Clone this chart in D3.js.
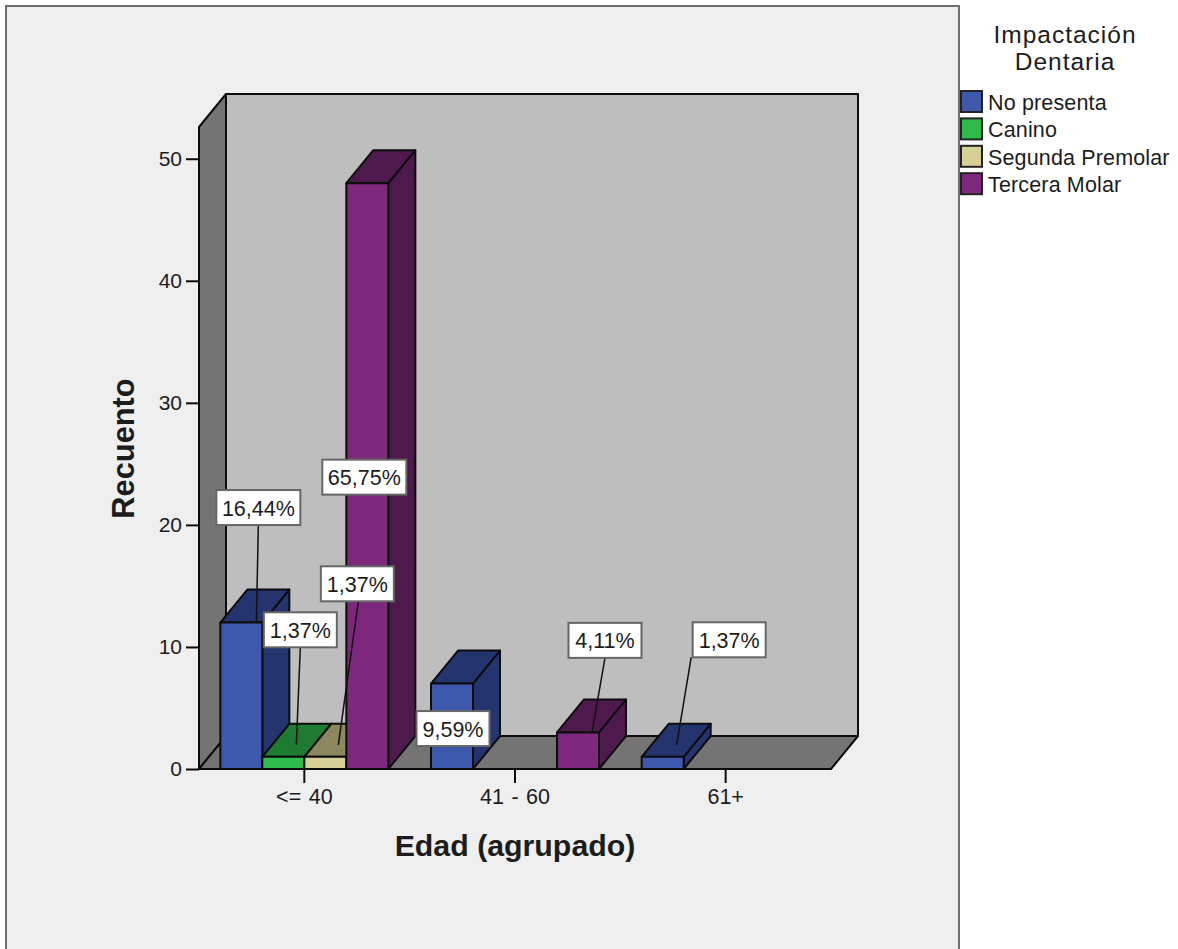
<!DOCTYPE html>
<html lang="es">
<head>
<meta charset="utf-8">
<title>Impactación dentaria por edad</title>
<script src="https://cdn.jsdelivr.net/npm/d3@7/dist/d3.min.js"></script>
<style>
  html, body { margin: 0; padding: 0; background: #fff; }
  svg { display: block; }
  text { font-family: "Liberation Sans", Arial, sans-serif; fill: #1c1c1c; }
</style>
</head>
<body>
<svg id="chart" width="1178" height="949"></svg>
<script>
// Counts per age group, one array per impaction type
const ageGroups = ["<= 40", "41 - 60", "61+"];
const impactionTypes = ["No presenta", "Canino", "Segunda Premolar", "Tercera Molar"];
const noPresenta = [12, 7, 1];
const canino = [1, 0, 0];
const segundaPremolar = [1, 0, 0];
const terceraMolar = [48, 3, 0];
const countTicks = [0, 10, 20, 30, 40, 50];
const totalCases = 73;

// Face colours per type: front, top, side
const frontColors = ["#3e58ac", "#2fbb4c", "#d6cf97", "#7d287d"];
const topColors = ["#23346e", "#1f7a32", "#8b8860", "#4e1a4e"];
const sideColors = ["#23346e", "#1f7a32", "#8b8860", "#4e1a4e"];

// Callout box placement relative to the bar's front-top centre
const callouts = [
  { type: 0, group: 0, dx: 17, dy: -115, leaderFrom: 0, leaderX: 15, leaderEnd: 0 },
  { type: 1, group: 0, dx: 17, dy: -127, leaderFrom: 0, leaderX: 13, leaderEnd: -12 },
  { type: 2, group: 0, dx: 32, dy: -173, leaderFrom: 1, leaderX: 13, leaderEnd: -12 },
  { type: 3, group: 0, dx: -3, dy: 294, leaderX: null },
  { type: 0, group: 1, dx: 1, dy: 45, leaderX: null },
  { type: 3, group: 1, dx: 27, dy: -92, leaderFrom: 0, leaderX: 14, leaderEnd: 0 },
  { type: 0, group: 2, dx: 66.5, dy: -117, leaderFrom: -38, leaderX: 14, leaderEnd: -12 }
];

const series = [noPresenta, canino, segundaPremolar, terceraMolar];

const svg = d3.select("#chart");

// Plot geometry
const plot = { left: 199, right: 831, base: 769, wallTop: 127, depthX: 27, depthY: 33 };

const y = d3.scaleLinear().domain([0, 52.6]).range([plot.base, plot.wallTop]);
const x = d3.scaleBand().domain(ageGroups)
  .range([plot.left, plot.right])
  .paddingInner(0.2026).paddingOuter(0.1013);
const xInner = d3.scaleBand().domain(impactionTypes).range([0, x.bandwidth()]);

// Outer panel
svg.append("rect")
  .attr("x", 6).attr("y", 6).attr("width", 953).attr("height", 960)
  .attr("fill", "#efefef").attr("stroke", "#6f6f6f").attr("stroke-width", 2);

const poly = (pts, fill) => svg.append("path")
  .attr("d", d3.line()(pts) + "Z")
  .attr("fill", fill).attr("stroke", "#0c0c0c").attr("stroke-width", 2)
  .attr("stroke-linejoin", "round");

const { left: L, right: R, base: B, wallTop: T, depthX: DX, depthY: DY } = plot;

// Back wall, side wall and floor of the 3D box
poly([[L + DX, T - DY], [R + DX, T - DY], [R + DX, B - DY], [L + DX, B - DY]], "#bebebe");
poly([[L, B], [L + DX, B - DY], [L + DX, T - DY], [L, T]], "#747474");
poly([[L, B], [L + DX, B - DY], [R + DX, B - DY], [R, B]], "#747474");

// Axes
const yAxis = d3.axisLeft(y).tickValues(countTicks).tickSize(13).tickPadding(3).tickFormat(d3.format("d"));
const xAxis = d3.axisBottom(x).tickSize(14).tickPadding(6);

const yG = svg.append("g").attr("transform", `translate(${L},0)`).call(yAxis);
const xG = svg.append("g").attr("transform", `translate(0,${B})`).call(xAxis);
[yG, xG].forEach(g => {
  g.select(".domain").remove();
  g.selectAll("line").attr("stroke", "#0c0c0c").attr("stroke-width", 2);
});
yG.selectAll("text").style("font-size", "21px").attr("fill", "#333").attr("dx", -1);
xG.selectAll("text").style("font-size", "21.5px").style("word-spacing", "1.5px").attr("fill", "#333");

// Bars, left to right so each one overlaps the side of the previous
const barX = (g, t) => x(ageGroups[g]) + xInner(impactionTypes[t]);
const bw = xInner.bandwidth();

ageGroups.forEach((_, g) => {
  impactionTypes.forEach((_, t) => {
    const v = series[t][g];
    if (!v) return;
    const x0 = barX(g, t), x1 = x0 + bw, yt = y(v);
    poly([[x1, B], [x1 + DX, B - DY], [x1 + DX, yt - DY], [x1, yt]], sideColors[t]);
    poly([[x0, yt], [x0 + DX, yt - DY], [x1 + DX, yt - DY], [x1, yt]], topColors[t]);
    poly([[x0, B], [x1, B], [x1, yt], [x0, yt]], frontColors[t]);
  });
});

// Percentage callouts with leader lines
const pct = v => d3.format(".2f")(v / totalCases * 100).replace(".", ",") + "%";
const boxH = 35;

callouts.forEach(c => {
  const v = series[c.type][c.group];
  const cx = barX(c.group, c.type) + bw / 2;
  const top = y(v);
  const label = pct(v);
  const boxW = label.length > 5 ? 84 : 73;
  const bx = cx + c.dx, by = top + c.dy;
  const g = svg.append("g");
  if (c.leaderX !== null) {
    g.append("line")
      .attr("x1", bx + c.leaderFrom).attr("y1", by + boxH / 2)
      .attr("x2", cx + c.leaderX).attr("y2", top + c.leaderEnd)
      .attr("stroke", "#111").attr("stroke-width", 1.5);
  }
  g.append("rect")
    .attr("x", bx - boxW / 2).attr("y", by - boxH / 2)
    .attr("width", boxW).attr("height", boxH)
    .attr("fill", "#fff").attr("stroke", "#666").attr("stroke-width", 2);
  g.append("text")
    .attr("x", bx).attr("y", by + 8)
    .attr("text-anchor", "middle")
    .style("font-size", "21.5px")
    .text(label);
});

// Axis titles
svg.append("text")
  .attr("x", 515).attr("y", 856)
  .attr("text-anchor", "middle")
  .style("font-size", "30.3px").style("font-weight", "bold")
  .text("Edad (agrupado)");

svg.append("text")
  .attr("transform", "translate(134,448.5) rotate(-90)")
  .attr("text-anchor", "middle")
  .style("font-size", "30.8px").style("font-weight", "bold")
  .text("Recuento");

// Legend
const legendTitle = ["Impactación", "Dentaria"];
svg.selectAll("text.legend-title").data(legendTitle).join("text")
  .attr("class", "legend-title")
  .attr("x", 1065).attr("y", (d, i) => 43 + i * 27)
  .attr("text-anchor", "middle")
  .style("font-size", "24.5px")
  .style("letter-spacing", "1px")
  .attr("fill", "#333")
  .text(d => d);

const legend = svg.selectAll("g.legend-item").data(impactionTypes).join("g")
  .attr("class", "legend-item")
  .attr("transform", (d, i) => `translate(961,${91 + i * 27.4})`);
legend.append("rect")
  .attr("width", 21).attr("height", 21)
  .attr("fill", (d, i) => frontColors[i])
  .attr("stroke", "#222").attr("stroke-width", 2);
legend.append("text")
  .attr("x", 27).attr("y", 19)
  .style("font-size", "21.5px")
  .style("letter-spacing", "0.15px")
  .text(d => d);
</script>
</body>
</html>
